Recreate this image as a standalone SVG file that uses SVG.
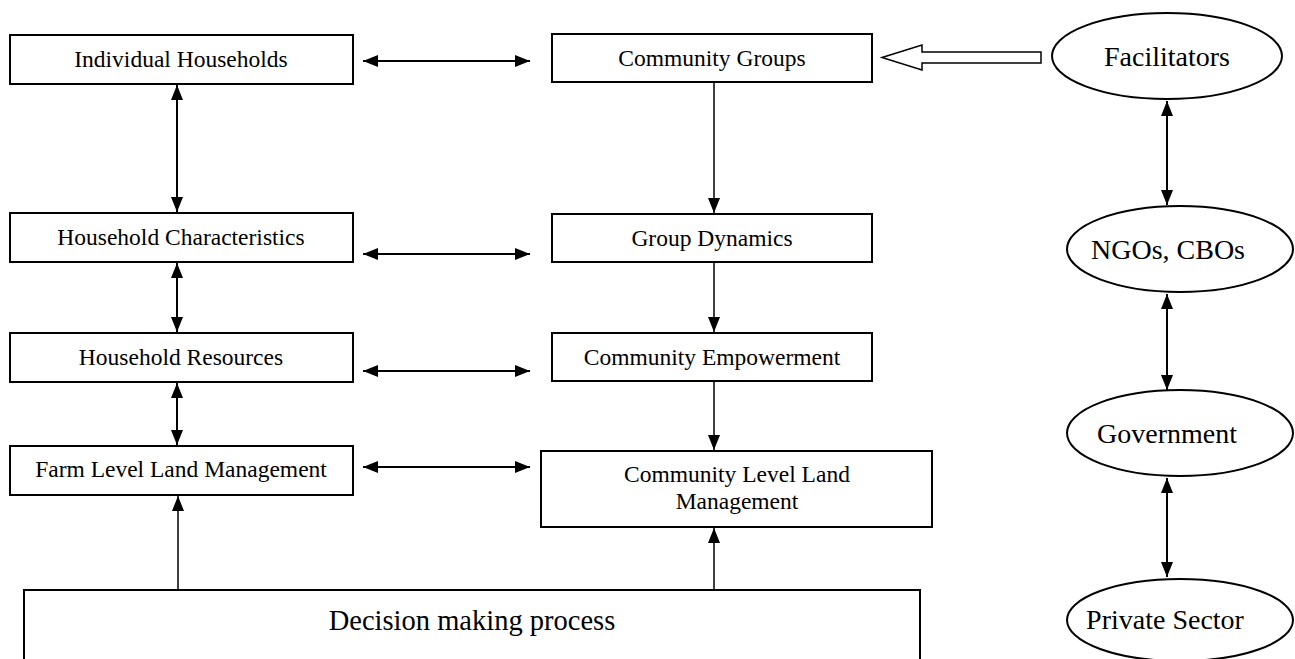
<svg xmlns="http://www.w3.org/2000/svg" width="1295" height="659" viewBox="0 0 1295 659">
<defs>
<style>
.box{fill:#fff;stroke:#000;stroke-width:2}
.ell{fill:#fff;stroke:#000;stroke-width:2}
.t{font-family:"Liberation Serif","Times New Roman",serif;font-size:23.5px;fill:#000;text-anchor:middle}
.tl{font-family:"Liberation Serif","Times New Roman",serif;font-size:28px;fill:#000;text-anchor:middle}
.c{stroke:#000;stroke-width:2;fill:none}
.c1{stroke:#000;stroke-width:1.5;fill:none}
</style>
<marker id="ah" viewBox="0 0 15 12" refX="15" refY="6" markerWidth="15" markerHeight="12" markerUnits="userSpaceOnUse" orient="auto-start-reverse">
<path d="M0,0 L15,6 L0,12 Z" fill="#000"/>
</marker>
</defs>
<rect width="1295" height="659" fill="#fff"/>

<g id="connectors">
<line class="c" x1="363" y1="61" x2="530" y2="61" marker-start="url(#ah)" marker-end="url(#ah)"/>
<line class="c" x1="363" y1="254" x2="530" y2="254" marker-start="url(#ah)" marker-end="url(#ah)"/>
<line class="c" x1="363" y1="371" x2="530" y2="371" marker-start="url(#ah)" marker-end="url(#ah)"/>
<line class="c" x1="363" y1="467" x2="530" y2="467" marker-start="url(#ah)" marker-end="url(#ah)"/>
<line class="c" x1="177" y1="85" x2="177" y2="212" marker-start="url(#ah)" marker-end="url(#ah)"/>
<line class="c" x1="177" y1="263" x2="177" y2="332" marker-start="url(#ah)" marker-end="url(#ah)"/>
<line class="c" x1="177" y1="383" x2="177" y2="445" marker-start="url(#ah)" marker-end="url(#ah)"/>
<line class="c1" x1="714" y1="82" x2="714" y2="213" marker-end="url(#ah)"/>
<line class="c1" x1="714" y1="262" x2="714" y2="332" marker-end="url(#ah)"/>
<line class="c1" x1="714" y1="381" x2="714" y2="450" marker-end="url(#ah)"/>
<line class="c1" x1="178" y1="590" x2="178" y2="496" marker-end="url(#ah)"/>
<line class="c1" x1="714" y1="590" x2="714" y2="528" marker-end="url(#ah)"/>
<line class="c" x1="1167" y1="101" x2="1167" y2="205" marker-start="url(#ah)" marker-end="url(#ah)"/>
<line class="c" x1="1167" y1="294" x2="1167" y2="390" marker-start="url(#ah)" marker-end="url(#ah)"/>
<line class="c" x1="1167" y1="478" x2="1167" y2="577" marker-start="url(#ah)" marker-end="url(#ah)"/>
<polygon points="882,57.5 922,45 922,52 1041,52 1041,63 922,63 922,70" fill="#fff" stroke="#000" stroke-width="1.5"/>
</g>

<g id="individual-households">
<rect class="box" x="10" y="35" width="343" height="49"/>
<text class="t" x="181" y="67">Individual Households</text>
</g>
<g id="household-characteristics">
<rect class="box" x="10" y="213" width="343" height="49"/>
<text class="t" x="181" y="245">Household Characteristics</text>
</g>
<g id="household-resources">
<rect class="box" x="10" y="333" width="343" height="49"/>
<text class="t" x="181" y="365">Household Resources</text>
</g>
<g id="farm-level">
<rect class="box" x="10" y="446" width="343" height="49"/>
<text class="t" x="181" y="477">Farm Level Land Management</text>
</g>

<g id="community-groups">
<rect class="box" x="552" y="34" width="320" height="48"/>
<text class="t" x="712" y="66">Community Groups</text>
</g>
<g id="group-dynamics">
<rect class="box" x="552" y="214" width="320" height="48"/>
<text class="t" x="712" y="246">Group Dynamics</text>
</g>
<g id="community-empowerment">
<rect class="box" x="552" y="333" width="320" height="48"/>
<text class="t" x="712" y="365">Community Empowerment</text>
</g>
<g id="community-level">
<rect class="box" x="541" y="451" width="391" height="76"/>
<text class="t" x="737" y="482">Community Level Land</text>
<text class="t" x="737" y="509">Management</text>
</g>

<g id="decision">
<rect class="box" x="24" y="590" width="896" height="100"/>
<text class="tl" x="472" y="630" style="font-size:28.5px">Decision making process</text>
</g>

<g id="facilitators">
<ellipse class="ell" cx="1167" cy="56" rx="115" ry="43"/>
<text class="tl" x="1167" y="66">Facilitators</text>
</g>
<g id="ngos">
<ellipse class="ell" cx="1180" cy="249" rx="113" ry="43"/>
<text class="tl" x="1168" y="259">NGOs, CBOs</text>
</g>
<g id="government">
<ellipse class="ell" cx="1180" cy="433" rx="113" ry="43"/>
<text class="tl" x="1167" y="443">Government</text>
</g>
<g id="private-sector">
<ellipse class="ell" cx="1180" cy="620" rx="113" ry="41"/>
<text class="tl" x="1165" y="629">Private Sector</text>
</g>
</svg>
